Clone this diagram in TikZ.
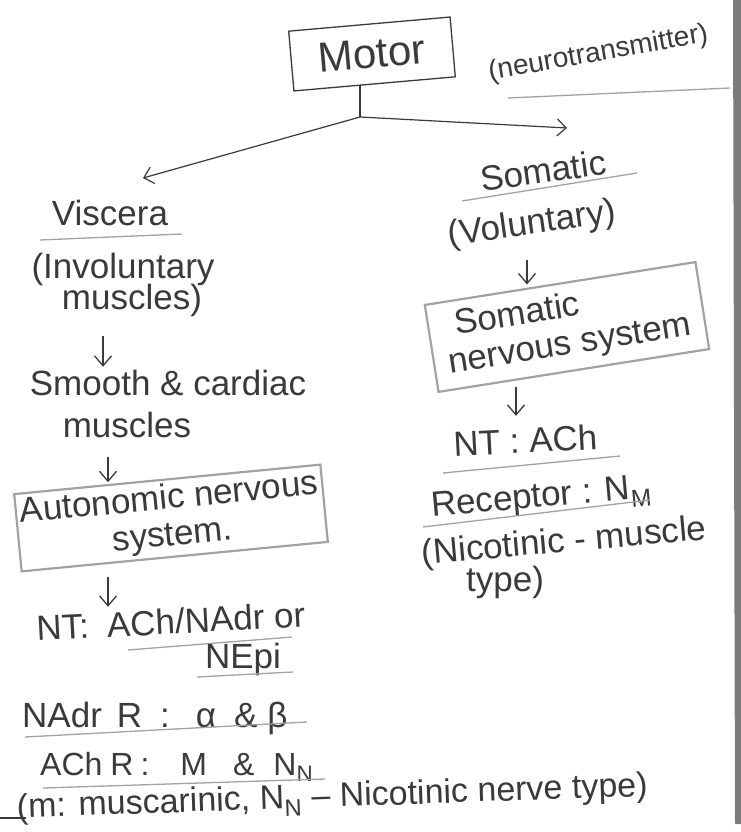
\documentclass[tikz,border=0pt]{standalone}
\usepackage{fontspec}
\setmainfont{Liberation Sans}
\usetikzlibrary{arrows.meta,calc}
\definecolor{ink}{HTML}{3A3A3A}
\definecolor{pencil}{HTML}{A2A2A2}
\definecolor{pageedge}{HTML}{7C7C7C}

\begin{document}
\begin{tikzpicture}[x=1pt,y=-1pt,
  txt/.style={text=ink, inner sep=0pt, anchor=base, text height=26pt, text depth=8pt,
              font=\fontsize{35}{40}\selectfont},
  ulin/.style={draw=pencil, line width=1.3pt},
  hbox/.style={draw=pencil, line width=2.2pt, text=ink, inner sep=4pt,
               font=\fontsize{35}{37}\selectfont},
  bigarr/.style={draw=ink, line width=1.2pt, -{Straight Barb[length=9pt,width=17pt]}},
  downarr/.style={draw=ink, line width=1.3pt, -{Straight Barb[length=10pt,width=17pt]}},
]
% page and its dark edge
\fill[white] (0,0) rectangle (741,832);
\path[use as bounding box] (0,0) rectangle (741,832);
\fill[pageedge] (733,0) -- (741,0) -- (741,824) -- (735,824) -- cycle;

% top of the tree
\node[draw=ink, line width=1.3pt, text=ink, rotate=5, minimum width=162pt,
      minimum height=60pt, inner sep=2pt, font=\fontsize{42}{46}\selectfont] (motor) at (372,54) {Motor};
\node[txt, rotate=10, anchor=center, font=\fontsize{28}{32}\selectfont] (neuro) at (598,52) {(neurotransmitter)};
\draw[ulin] (508,98) -- (730,88);

\coordinate (junc) at (360,117);
\coordinate (tipL) at (143,178);
\coordinate (tipR) at (567,128);
\draw[ink, line width=1.2pt] (motor.south -| junc) -- (junc);
\draw[bigarr] (junc) -- (tipL);
\draw[bigarr] (junc) -- (tipR);

% visceral branch
\coordinate (la) at (103,0);
\coordinate (lb) at (108,0);
\node[txt] (visc) at (110,225) {Viscera};
\draw[ulin] (40,240) -- (182,234);
\node[txt] (inv1) at (123,278) {(Involuntary};
\node[txt] (inv2) at (132,309) {muscles)};
\node[txt] (sm1) at (168,395) {Smooth \& cardiac};
\node[txt] (sm2) at (127,437) {muscles};
\node[hbox, rotate=5.5, minimum width=306pt, minimum height=76pt, align=center] (ans) at (171,518)
  {Autonomic nervous\\system.};
\node[txt, anchor=base west, rotate=3] (nt1) at (37,641) {NT:\hspace{18pt}ACh/NAdr or};
\draw[ulin] (128,650) -- (292,637);
\node[txt] (nt2) at (243,668) {NEpi};
\draw[ulin] (197,677) -- (293,672);
\node[txt, anchor=base west] (nadr) at (22,727)
  {NAdr\hspace{15pt}R\hspace{18pt}:\hspace{26pt}α\hspace{18pt}\&\hspace{10pt}β};
\draw[ulin] (25,737) -- (307,722);
\node[txt, anchor=base west, font=\fontsize{32}{36}\selectfont] (achr) at (40,775)
  {ACh\hspace{8pt}R\hspace{7pt}:\hspace{31pt}M\hspace{26pt}\&\hspace{19pt}N\textsubscript{N}};
\draw[ulin] (43,788) -- (325,779);
\node[txt, anchor=base west, rotate=2, font=\fontsize{34}{38}\selectfont] (foot) at (17,818)
  {(m: muscarinic, N\textsubscript{N} – Nicotinic nerve type)};
\draw[ink, line width=2pt] (0,818) -- (26,818);

\draw[downarr, shorten <=19pt, shorten >=2pt] (inv2.south -| la) -- (sm1.north -| la);
\draw[downarr, shorten <=12pt, shorten >=-4pt] (sm2.south -| lb) -- (ans.north -| lb);
\draw[downarr, shorten <=19pt, shorten >=1pt] (ans.south -| lb) -- (nt1.north -| lb);

% somatic branch
\coordinate (ra) at (527,0);
\coordinate (rb) at (516,0);
\node[txt, rotate=8] (som) at (545,183) {Somatic};
\draw[ulin] (462,201) -- (637,173);
\node[txt, rotate=8, anchor=center] (vol) at (532,225) {(Voluntary)};
\node[hbox, rotate=9, minimum width=274pt, minimum height=88pt, align=left] (sns) at (567,327)
  {\hspace*{12pt}Somatic\\nervous system};
\node[txt, rotate=3] (snt) at (526,453) {NT : ACh};
\draw[ulin] (443,473) -- (620,456);
\node[txt, rotate=5] (rec) at (542,507) {Receptor : N\textsubscript{M}};
\draw[ulin] (423,527) -- (650,500);
\node[txt, rotate=5] (nic1) at (565,552) {(Nicotinic - muscle};
\node[txt] (nic2) at (505,591) {type)};

\draw[downarr, shorten <=18pt, shorten >=-2pt] (vol.south -| ra) -- (sns.north -| ra);
\draw[downarr, shorten <=15pt, shorten >=11pt] (sns.south -| rb) -- (snt.north -| rb);
\end{tikzpicture}
\end{document}
